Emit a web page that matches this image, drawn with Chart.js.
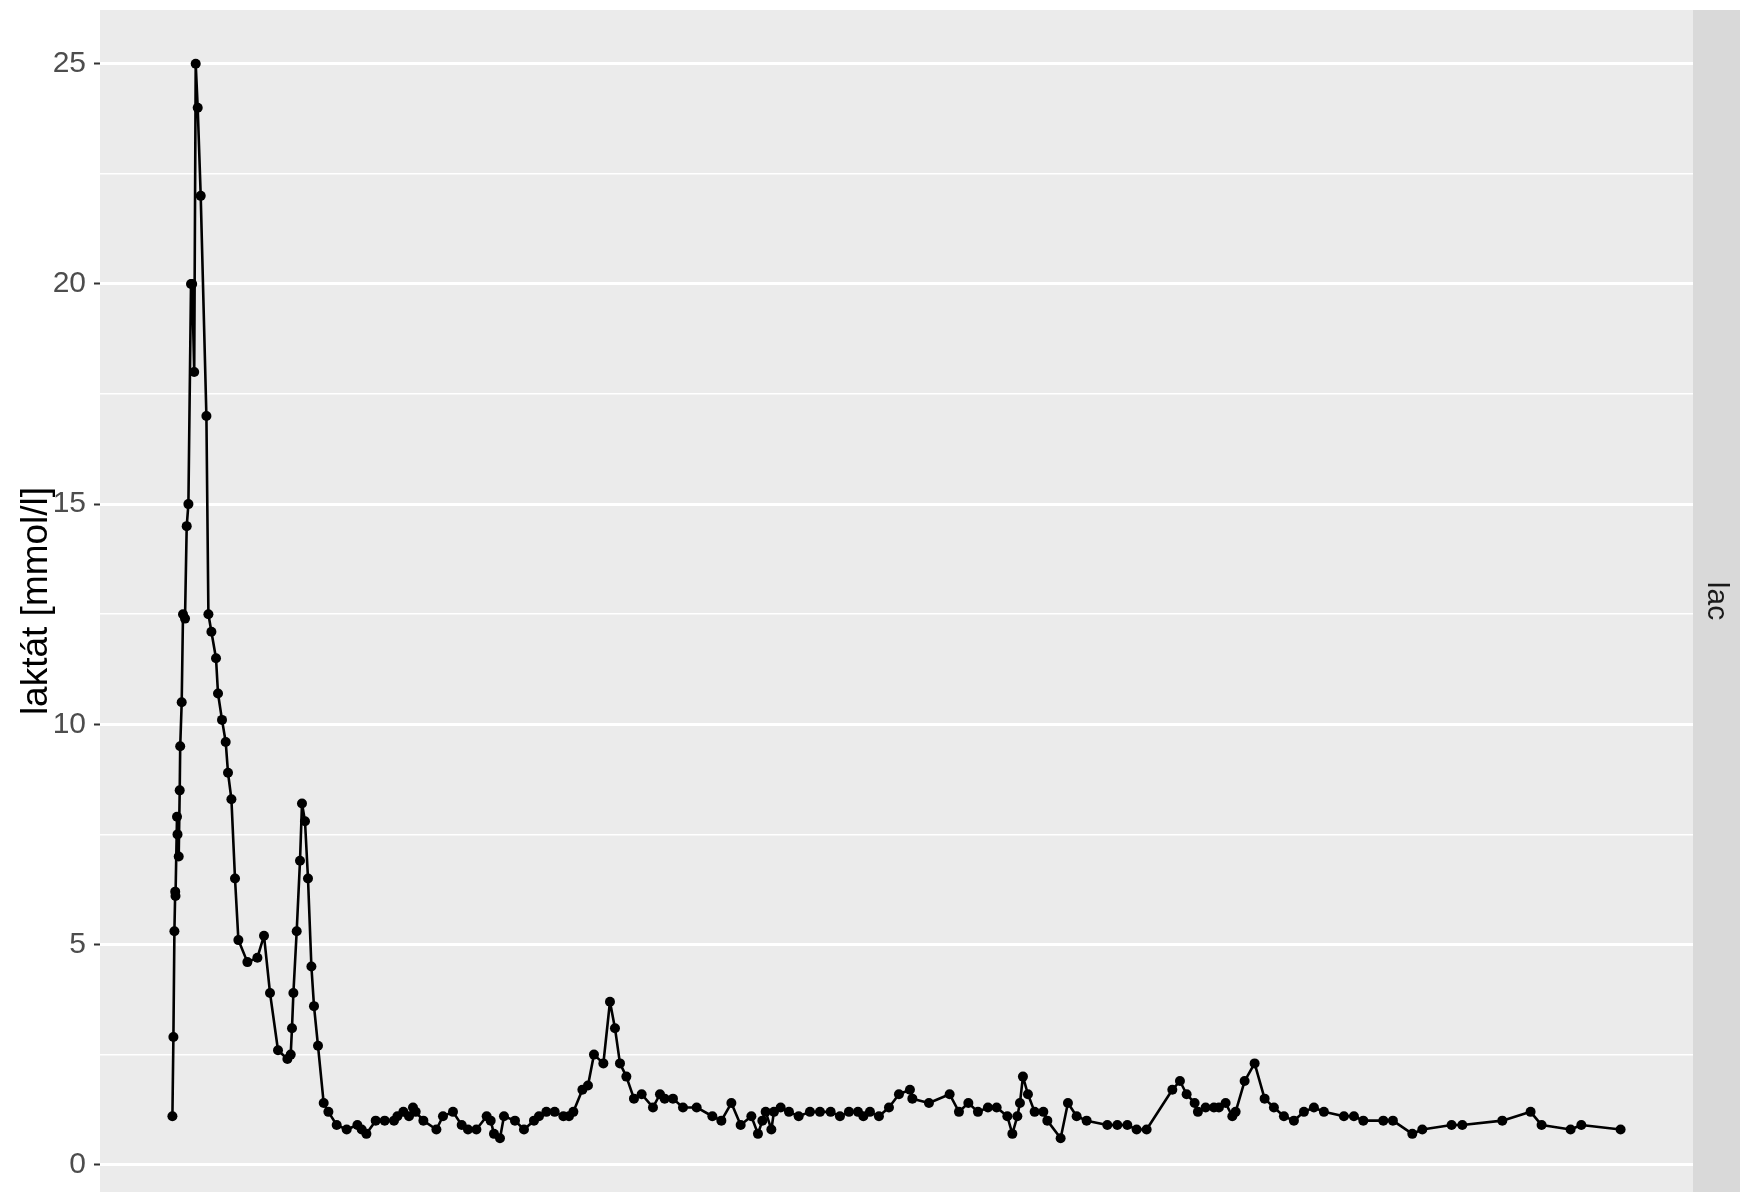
<!DOCTYPE html>
<html>
<head>
<meta charset="utf-8">
<script src="https://cdn.jsdelivr.net/npm/chart.js@4"></script>
<style>
  html, body { margin: 0; padding: 0; background: #ffffff; }
  canvas { display: block; }
</style>
</head>
<body>
<canvas id="c" width="1740" height="1192"></canvas>
<script>
// time since first sample (hours)
const hours = [
  0.00, 0.10, 0.20, 0.28, 0.31, 0.46, 0.51, 0.63, 0.73, 0.78,
  0.93, 1.06, 1.26, 1.43, 1.60, 1.86, 1.98, 2.18, 2.33, 2.53,
  2.83, 3.40, 3.60, 3.90, 4.36, 4.56, 4.96, 5.33, 5.56, 5.90,
  6.26, 6.60, 7.50, 8.50, 9.16, 9.76, 10.56, 11.50, 11.83, 11.96,
  12.10, 12.43, 12.76, 12.96, 13.26, 13.56, 13.90, 14.16, 14.56, 15.13,
  15.60, 16.43, 17.43, 18.50, 18.93, 19.40, 20.33, 21.23, 22.16, 22.50,
  23.10, 23.66, 24.06, 24.33, 25.10, 26.40, 27.06, 28.06, 28.93, 29.56,
  30.40, 31.43, 31.83, 32.16, 32.76, 33.16, 34.26, 35.16, 36.16, 36.66,
  37.40, 38.23, 39.10, 39.66, 40.10, 41.00, 41.56, 42.16, 43.10, 43.76,
  44.26, 44.76, 45.40, 46.16, 46.93, 48.06, 48.76, 49.23, 50.06, 51.06,
  52.43, 54.00, 54.90, 55.90, 56.83, 57.90, 58.56, 59.00, 59.33, 59.90,
  60.16, 60.83, 61.66, 62.63, 63.76, 64.76, 65.83, 66.76, 67.66, 68.56,
  69.10, 69.76, 70.66, 71.66, 72.66, 73.76, 74.00, 75.66, 77.73, 78.66,
  79.60, 80.56, 81.56, 82.43, 83.50, 84.00, 84.50, 84.76, 85.06, 85.56,
  86.23, 87.10, 87.50, 88.83, 89.56, 90.43, 91.43, 93.50, 94.50, 95.50,
  96.43, 97.43, 100.00, 100.76, 101.43, 102.23, 102.56, 103.33, 104.16, 104.66,
  105.33, 106.00, 106.33, 107.23, 108.23, 109.23, 110.16, 111.16, 112.16, 113.16,
  114.16, 115.16, 117.16, 118.16, 119.10, 121.10, 122.06, 124.00, 125.00, 127.93,
  129.00, 133.00, 135.83, 136.93, 139.83, 140.90, 144.83
];
// lactate (mmol/l)
const lactate = [
  1.1, 2.9, 5.3, 6.2, 6.1, 7.9, 7.5, 7.0, 8.5, 9.5,
  10.5, 12.5, 12.4, 14.5, 15.0, 20.0, 20.0, 18.0, 25.0, 24.0,
  22.0, 17.0, 12.5, 12.1, 11.5, 10.7, 10.1, 9.6, 8.9, 8.3,
  6.5, 5.1, 4.6, 4.7, 5.2, 3.9, 2.6, 2.4, 2.5, 3.1,
  3.9, 5.3, 6.9, 8.2, 7.8, 6.5, 4.5, 3.6, 2.7, 1.4,
  1.2, 0.9, 0.8, 0.9, 0.8, 0.7, 1.0, 1.0, 1.0, 1.1,
  1.2, 1.1, 1.3, 1.2, 1.0, 0.8, 1.1, 1.2, 0.9, 0.8,
  0.8, 1.1, 1.0, 0.7, 0.6, 1.1, 1.0, 0.8, 1.0, 1.1,
  1.2, 1.2, 1.1, 1.1, 1.2, 1.7, 1.8, 2.5, 2.3, 3.7,
  3.1, 2.3, 2.0, 1.5, 1.6, 1.3, 1.6, 1.5, 1.5, 1.3,
  1.3, 1.1, 1.0, 1.4, 0.9, 1.1, 0.7, 1.0, 1.2, 0.8,
  1.2, 1.3, 1.2, 1.1, 1.2, 1.2, 1.2, 1.1, 1.2, 1.2,
  1.1, 1.2, 1.1, 1.3, 1.6, 1.7, 1.5, 1.4, 1.6, 1.2,
  1.4, 1.2, 1.3, 1.3, 1.1, 0.7, 1.1, 1.4, 2.0, 1.6,
  1.2, 1.2, 1.0, 0.6, 1.4, 1.1, 1.0, 0.9, 0.9, 0.9,
  0.8, 0.8, 1.7, 1.9, 1.6, 1.4, 1.2, 1.3, 1.3, 1.3,
  1.4, 1.1, 1.2, 1.9, 2.3, 1.5, 1.3, 1.1, 1.0, 1.2,
  1.3, 1.2, 1.1, 1.1, 1.0, 1.0, 1.0, 0.7, 0.8, 0.9,
  0.9, 1.0, 1.2, 0.9, 0.8, 0.9, 0.8
];
const yTicks = [0, 2.5, 5, 7.5, 10, 12.5, 15, 17.5, 20, 22.5, 25];
const facetLabel = 'lac';
const yTitle = 'laktát [mmol/l]';

const FONT = '"Liberation Sans", Arial, Helvetica, sans-serif';

function expand(arr) {
  const lo = Math.min(...arr), hi = Math.max(...arr);
  const pad = (hi - lo) * 0.05;
  return [lo - pad, hi + pad];
}
const [xMin, xMax] = expand(hours);
const [yMin, yMax] = expand(lactate);

const points = hours.map((h, i) => ({ x: h, y: lactate[i] }));

const panelPlugin = {
  id: 'panel',
  beforeDraw(chart) {
    const { ctx, chartArea: a } = chart;
    ctx.save();
    ctx.fillStyle = '#EBEBEB';
    ctx.fillRect(a.left, a.top, a.right - a.left, a.bottom - a.top);
    ctx.restore();
  },
  afterDraw(chart) {
    const { ctx, chartArea: a, width } = chart;
    ctx.save();
    ctx.fillStyle = '#D9D9D9';
    ctx.fillRect(a.right, a.top, width - a.right, a.bottom - a.top);
    ctx.translate((a.right + width) / 2, (a.top + a.bottom) / 2);
    ctx.rotate(Math.PI / 2);
    ctx.fillStyle = '#1A1A1A';
    ctx.font = '30px ' + FONT;
    ctx.textAlign = 'center';
    ctx.textBaseline = 'middle';
    ctx.fillText(facetLabel, 0, 0);
    ctx.restore();
  }
};

new Chart(document.getElementById('c'), {
  type: 'line',
  data: {
    datasets: [{
      data: points,
      borderColor: '#000000',
      borderWidth: 2.6,
      borderJoinStyle: 'round',
      borderCapStyle: 'round',
      backgroundColor: '#000000',
      pointBackgroundColor: '#000000',
      pointBorderWidth: 0,
      pointRadius: 5,
      tension: 0,
      fill: false
    }]
  },
  options: {
    responsive: false,
    devicePixelRatio: 1,
    animation: false,
    events: [],
    layout: { autoPadding: false, padding: { left: 0, top: 10, right: 47, bottom: 0 } },
    plugins: { legend: { display: false }, tooltip: { enabled: false } },
    scales: {
      x: {
        type: 'linear',
        min: xMin,
        max: xMax,
        display: false
      },
      y: {
        type: 'linear',
        min: yMin,
        max: yMax,
        afterBuildTicks(scale) {
          scale.ticks = yTicks.map(v => ({ value: v }));
        },
        afterFit(scale) {
          scale.width = 100;
          scale.paddingTop = 0;
          scale.paddingBottom = 0;
        },
        border: { display: false },
        grid: {
          color: '#FFFFFF',
          lineWidth: c => (c.tick && c.tick.value % 5 === 0) ? 3 : 1.5,
          tickColor: c => (c.tick && c.tick.value % 5 === 0) ? '#333333' : 'rgba(0,0,0,0)',
          tickLength: 6,
          tickWidth: 2,
          drawTicks: true
        },
        ticks: {
          autoSkip: false,
          padding: 8,
          color: '#4D4D4D',
          font: { family: FONT, size: 30 },
          callback: v => (v % 5 === 0 ? String(v) : '')
        },
        title: {
          display: true,
          text: yTitle,
          color: '#000000',
          font: { family: FONT, size: 37 },
          padding: { top: 15, bottom: 0 }
        }
      }
    }
  },
  plugins: [panelPlugin]
});
</script>
</body>
</html>
